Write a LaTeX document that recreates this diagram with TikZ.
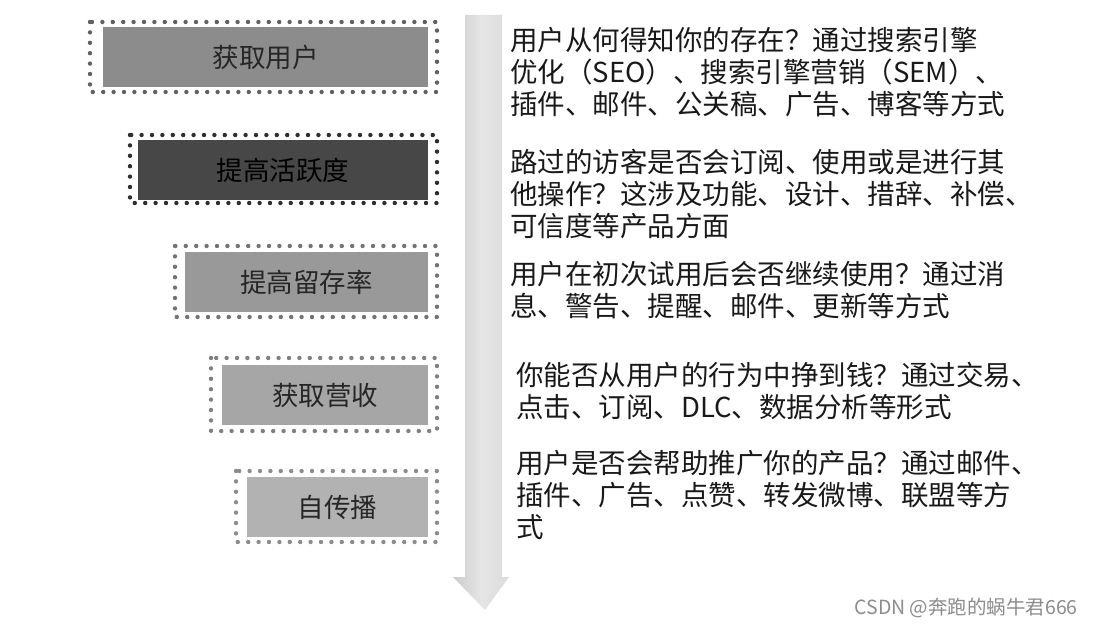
\documentclass[tikz,border=0pt]{standalone}
\usepackage{fontspec}
\setmainfont{Noto Sans CJK SC}
\newfontfamily\cjk{Noto Sans CJK SC}
\usetikzlibrary{positioning}
\begin{document}
\begin{tikzpicture}[x=1pt,y=-1pt,
  dotbox/.style={draw=#1, line width=4.4pt, line cap=round, dash pattern=on 0pt off 10.4pt},
  fillbox/.style={fill=#1, draw=none},
  lbl/.style={font=\cjk\fontsize{26.5}{30}\selectfont, text=black!85},
  desc/.style={font=\cjk\fontsize{27.5}{32}\selectfont, align=left, anchor=west, inner sep=0pt, text=black!90},
]
\useasboundingbox (0,0) rectangle (1094,628);
\fill[white] (0,0) rectangle (1094,628);
% arrow
\shade[left color=black!20, right color=black!14, middle color=black!10]
  (465,15) -- (502,15) -- (502,577) -- (509,577) -- (485,610) -- (453,577) -- (465,577) -- cycle;
% boxes
\draw[dotbox=black!62] (90,22) rectangle (437,92);
\fill[fillbox=black!45] (103,27) rectangle (428,87);
\node[lbl] (b1) at (265.5,57) {获取用户};

\draw[dotbox=black!82] (130,135) rectangle (437,203);
\fill[fillbox=black!72] (138,140) rectangle (428,200);
\node[lbl, text=black] (b2) at (283,170) {提高活跃度};

\draw[dotbox=black!55] (175,246) rectangle (437,317);
\fill[fillbox=black!40] (185,252) rectangle (428,312);
\node[lbl] (b3) at (306.5,282) {提高留存率};

\draw[dotbox=black!50] (211,358) rectangle (437,431);
\fill[fillbox=black!35] (222,365) rectangle (428,425);
\node[lbl] (b4) at (325,395) {获取营收};

\draw[dotbox=black!45] (236,471) rectangle (437,542);
\fill[fillbox=black!30] (247,477) rectangle (428,537);
\node[lbl] (b5) at (337.5,507) {自传播};

% descriptions
\node[desc] (d1) at (510,72) {用户从何得知你的存在？通过搜索引擎\\优化（SEO）、搜索引擎营销（SEM）、\\插件、邮件、公关稿、广告、博客等方式};
\node[desc] (d2) at (510,194) {路过的访客是否会订阅、使用或是进行其\\他操作？这涉及功能、设计、措辞、补偿、\\可信度等产品方面};
\node[desc] (d3) at (510,290) {用户在初次试用后会否继续使用？通过消\\息、警告、提醒、邮件、更新等方式};
\node[desc] (d4) at (516,391) {你能否从用户的行为中挣到钱？通过交易、\\点击、订阅、DLC、数据分析等形式};
\node[desc] (d5) at (516,495) {用户是否会帮助推广你的产品？通过邮件、\\插件、广告、点赞、转发微博、联盟等方\\式};
% watermark
\node[font=\cjk\fontsize{19.5}{22}\selectfont, text=black!45, anchor=east, inner sep=0pt] (wm) at (1078,608) {CSDN @奔跑的蜗牛君666};
\end{tikzpicture}
\end{document}
